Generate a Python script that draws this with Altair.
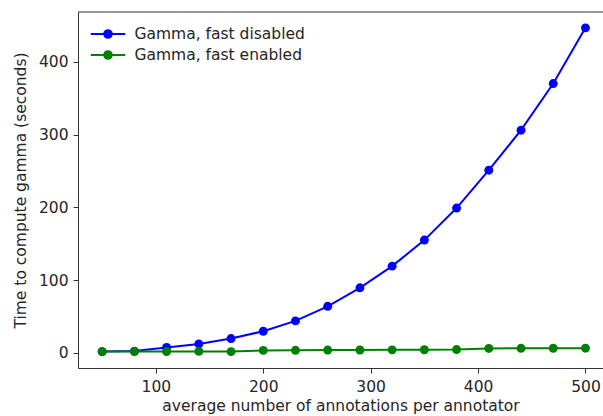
import altair as alt
import pandas as pd

# Data
annotations = [50, 80, 110, 140, 170, 200, 230, 260, 290, 320, 350, 380, 410, 440, 470, 500]
fast_disabled = [1.8, 2.5, 7.5, 12.4, 19.7, 29.8, 44.0, 64.0, 89.4, 119.2, 155.0, 199.0, 251.0, 306.0, 370.0, 446.5]
fast_enabled = [1.8, 1.9, 2.0, 2.1, 1.8, 3.5, 3.6, 3.9, 4.0, 4.2, 4.4, 4.6, 6.2, 6.3, 6.4, 6.5]
series_names = ["Gamma, fast disabled", "Gamma, fast enabled"]
series_colors = ["#0000ff", "#008000"]
x_ticks = [100, 200, 300, 400, 500]
y_ticks = [0, 100, 200, 300, 400]

rows = []
for name, vals in zip(series_names, [fast_disabled, fast_enabled]):
    for a, v in zip(annotations, vals):
        rows.append({"annotations": a, "seconds": v, "series": name})
df = pd.DataFrame(rows)

W, H = 525, 356
FONT = "DejaVu Sans"
FS = 15.5
TXT = "#262626"
SPINE = "#333333"


def ring(r):
    return f"M{-r},0A{r},{r} 0 1,0 {r},0A{r},{r} 0 1,0 {-r},0"


# legend glyph: a line with a filled circle (drawn as concentric rings)
legend_path = "M-1.5,0H1.5" + "".join(ring(r) for r in [0.34, 0.25, 0.16, 0.08, 0.02])

color = alt.Color(
    "series:N",
    scale=alt.Scale(domain=series_names, range=series_colors),
    legend=alt.Legend(
        title=None,
        orient="none",
        legendX=17.5,
        legendY=9.5,
        padding=0,
        rowPadding=0,
        symbolType=legend_path,
        symbolSize=529,
        symbolStrokeWidth=1.8,
        symbolOpacity=1,
        labelOffset=14,
        labelLimit=400,
        labelFont=FONT,
        labelFontSize=FS,
        labelColor=TXT,
    ),
)

lines = alt.Chart(df).mark_line(
    strokeWidth=2,
    point=alt.OverlayMarkDef(size=80, filled=True, opacity=1),
).encode(
    x=alt.X(
        "annotations:Q",
        scale=alt.Scale(domain=[27.5, 27.5 + W / 1.074], nice=False, zero=False),
        axis=alt.Axis(
            title="average number of annotations per annotator",
            values=x_ticks,
            grid=False,
            tickSize=5,
            labelPadding=6,
            titlePadding=4,
        ),
    ),
    y=alt.Y(
        "seconds:Q",
        scale=alt.Scale(domain=[-20.7, 468.3], nice=False, zero=False),
        axis=alt.Axis(
            title="Time to compute gamma (seconds)",
            values=y_ticks,
            grid=False,
            tickSize=5,
            labelPadding=5,
            titlePadding=10,
        ),
    ),
    color=color,
    order="annotations:Q",
)

top_spine = alt.Chart(pd.DataFrame({"a": [0]})).mark_rule(
    color=SPINE, strokeWidth=1
).encode(x=alt.value(0), x2=alt.value(W), y=alt.value(0))

chart = alt.layer(lines, top_spine).properties(
    width=W,
    height=H,
    background="white",
    autosize=alt.AutoSizeParams(type="none"),
    padding={"left": 78, "top": 12, "right": 0, "bottom": 48},
).configure_view(
    stroke=None
).configure_axis(
    domainColor=SPINE,
    domainWidth=1,
    tickColor=SPINE,
    tickWidth=1,
    labelFont=FONT,
    labelFontSize=FS,
    labelColor=TXT,
    titleFont=FONT,
    titleFontSize=FS,
    titleFontWeight="normal",
    titleColor=TXT,
)

chart.save("out.html", embed_options={"renderer": "svg", "actions": False})
